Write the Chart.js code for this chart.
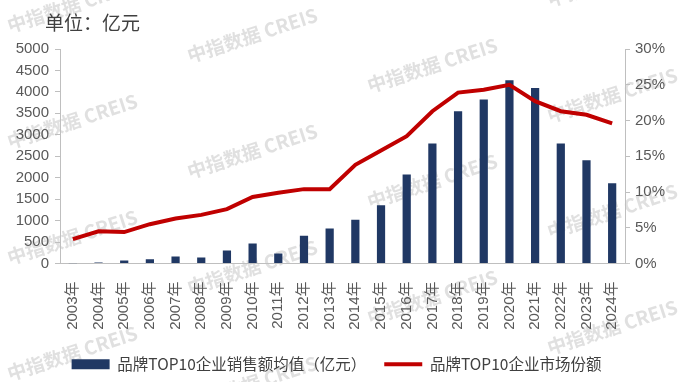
<!DOCTYPE html>
<html>
<head>
<meta charset="utf-8">
<script src="https://cdn.jsdelivr.net/npm/chart.js@4.4.1/dist/chart.umd.min.js"></script>
<style>
  html, body { margin: 0; padding: 0; background: #ffffff; }
  #wrap { width: 683px; height: 382px; position: relative; }
</style>
</head>
<body>
<div id="wrap"><canvas id="c" width="683" height="382"></canvas></div>
<script>
// ---- data ----
const categories = ['2003年','2004年','2005年','2006年','2007年','2008年','2009年','2010年','2011年','2012年','2013年','2014年','2015年','2016年','2017年','2018年','2019年','2020年','2021年','2022年','2023年','2024年'];
const avgSales = [8, 25, 70, 100, 165, 140, 305, 467, 234, 647, 818, 1021, 1355, 2072, 2797, 3551, 3825, 4269, 4089, 2797, 2407, 1869];
const marketShare = [3.4, 4.5, 4.4, 5.5, 6.3, 6.8, 7.6, 9.3, 9.9, 10.4, 10.4, 13.8, 15.8, 17.8, 21.3, 23.9, 24.3, 25.0, 22.7, 21.3, 20.8, 19.6];
const leftTicks = { min: 0, max: 5000, step: 500 };
const rightTicks = { min: 0, max: 30, step: 5 };
const seriesNames = ['品牌TOP10企业销售额均值（亿元）', '品牌TOP10企业市场份额'];
const unitTitle = '单位：亿元';
const watermarkText = '中指数据 CREIS';

const latinFont = "'Liberation Sans', 'Noto Sans CJK SC', sans-serif";
const cjkFont = "'Noto Sans CJK SC', 'Liberation Sans', sans-serif";
const axisGray = '#bfbfbf';
const tickColor = '#595959';

const titlePlugin = {
  id: 'unitTitle',
  afterDraw(chart) {
    const ctx = chart.ctx;
    ctx.save();
    ctx.font = "19px " + cjkFont;
    ctx.fillStyle = '#404040';
    ctx.textBaseline = 'middle';
    ctx.textAlign = 'left';
    ctx.fillText(unitTitle, 45, 23);
    ctx.restore();
  }
};

const watermarkPlugin = {
  id: 'watermark',
  beforeDraw(chart) {
    const ctx = chart.ctx;
    ctx.save();
    ctx.font = "bold 19px " + cjkFont;
    ctx.fillStyle = '#e0e0e0';
    ctx.textBaseline = 'alphabetic';
    ctx.textAlign = 'left';
    const cols = [10, 190, 370, 550];
    cols.forEach((x0, c) => {
      for (let k = -1; k < 4; k++) {
        const y0 = 33 + 30 * c + 116 * k;
        ctx.save();
        ctx.translate(x0, y0);
        ctx.rotate(-18 * Math.PI / 180);
        ctx.fillText(watermarkText, 0, 0);
        ctx.restore();
      }
    });
    ctx.restore();
  }
};

new Chart(document.getElementById('c'), {
  data: {
    labels: categories,
    datasets: [
      {
        type: 'bar',
        label: seriesNames[0],
        data: avgSales,
        backgroundColor: '#203864',
        borderWidth: 0,
        yAxisID: 'y',
        order: 1,
        barPercentage: 0.32,
        categoryPercentage: 1.0,
        pointStyle: 'rect'
      },
      {
        type: 'line',
        label: seriesNames[1],
        data: marketShare,
        borderColor: '#c00000',
        backgroundColor: '#c00000',
        borderWidth: 4,
        pointRadius: 0,
        pointHoverRadius: 0,
        tension: 0,
        yAxisID: 'y1',
        order: 0,
        pointStyle: 'line'
      }
    ]
  },
  options: {
    responsive: false,
    devicePixelRatio: 1,
    animation: false,
    layout: { padding: { top: 49, left: 0, right: 10, bottom: 0 } },
    scales: {
      x: {
        offset: true,
        grid: { display: false },
        border: { display: true, color: axisGray, width: 1 },
        ticks: {
          minRotation: 90, maxRotation: 90, autoSkip: false, padding: 10,
          color: tickColor, font: { size: 15, family: latinFont }
        },
        afterFit(s) { s.height = 75; }
      },
      y: {
        position: 'left',
        min: leftTicks.min, max: leftTicks.max,
        grid: { drawOnChartArea: false, drawTicks: true, tickLength: 5, color: axisGray },
        border: { display: true, color: axisGray, width: 1 },
        ticks: {
          stepSize: leftTicks.step, padding: 6, color: tickColor,
          font: { size: 15, family: latinFont },
          callback: v => String(v)
        },
        afterFit(s) { s.width = 60; }
      },
      y1: {
        position: 'right',
        min: rightTicks.min, max: rightTicks.max,
        grid: { drawOnChartArea: false, drawTicks: true, tickLength: 5, color: axisGray },
        border: { display: true, color: axisGray, width: 1 },
        ticks: {
          stepSize: rightTicks.step, padding: 5, color: tickColor,
          font: { size: 15, family: latinFont },
          callback: v => v + '%'
        },
        afterFit(s) { s.width = 48; }
      }
    },
    plugins: {
      tooltip: { enabled: false },
      title: { display: false },
      legend: {
        display: true,
        position: 'bottom',
        labels: {
          usePointStyle: true,
          pointStyleWidth: 38,
          boxHeight: 10,
          padding: 18,
          color: '#404040',
          font: { size: 15.5, family: cjkFont },
          sort: (a, b) => a.datasetIndex - b.datasetIndex
        }
      }
    }
  },
  plugins: [titlePlugin, watermarkPlugin]
});
</script>
</body>
</html>
